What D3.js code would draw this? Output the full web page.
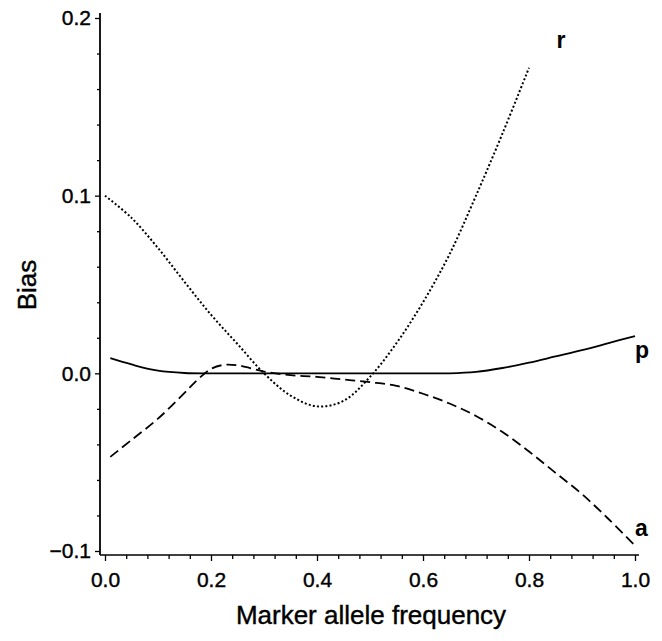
<!DOCTYPE html>
<html>
<head>
<meta charset="utf-8">
<script src="https://cdn.jsdelivr.net/npm/d3@7"></script>
<style>
  body { margin: 0; background: #fff; }
  svg { display: block; font-family: "Liberation Sans", Arial, Helvetica, sans-serif; }
</style>
</head>
<body>
<script>
// values
const rX = [0.0, 0.05, 0.10, 0.15, 0.20, 0.25, 0.30, 0.35, 0.40, 0.45, 0.50, 0.55, 0.60, 0.65, 0.70, 0.75, 0.80]
const rY = [0.100, 0.0875, 0.0705, 0.0515, 0.033, 0.0165, 0.000, -0.0125, -0.0186, -0.0155, -0.002, 0.017, 0.040, 0.067, 0.100, 0.135, 0.172]

const pX = [0.01, 0.05, 0.10, 0.15, 0.20, 0.30, 0.40, 0.50, 0.60, 0.65, 0.70, 0.75, 0.80, 0.85, 0.90, 0.95, 1.0]
const pY = [0.0085, 0.005, 0.0015, 0.0002, 0.0, 0.0, 0.0, 0.0, 0.0, 0.0, 0.0008, 0.003, 0.006, 0.0095, 0.013, 0.017, 0.021]

const aX = [0.01, 0.05, 0.10, 0.15, 0.175, 0.20, 0.225, 0.25, 0.30, 0.35, 0.40, 0.45, 0.50, 0.55, 0.60, 0.65, 0.70, 0.75, 0.80, 0.85, 0.90, 0.95, 1.0]
const aY = [-0.047, -0.0375, -0.0255, -0.011, -0.0035, 0.0025, 0.0048, 0.0045, 0.001, -0.001, -0.002, -0.0035, -0.005, -0.007, -0.0115, -0.017, -0.024, -0.033, -0.044, -0.056, -0.068, -0.082, -0.097]

const xTicks = [0, 0.2, 0.4, 0.6, 0.8, 1.0]
const yTicks = [-0.1, 0, 0.1, 0.2]

const width = 662, height = 641

let svg = d3.select("body").append("svg")
  .attr("width", width)
  .attr("height", height)

let x = d3.scaleLinear().domain([0, 1]).range([105, 635])
let y = d3.scaleLinear().domain([-0.1, 0.2]).range([551, 18])

const axisX = 100, axisY = 555

// axis lines (they sit a bit outside the data range, like the original)
svg.append("line")
  .attr("x1", axisX).attr("x2", axisX)
  .attr("y1", 13).attr("y2", axisY)
  .attr("stroke", "#000").attr("stroke-width", 1.8)
svg.append("line")
  .attr("x1", axisX).attr("x2", 639)
  .attr("y1", axisY).attr("y2", axisY)
  .attr("stroke", "#000").attr("stroke-width", 1.6)

// minor ticks
let xMinor = d3.range(0, 1.0001, 0.04).filter(v => !xTicks.some(t => Math.abs(t - v) < 1e-6))
let yMinor = d3.range(-0.1, 0.2001, 0.02).filter(v => !yTicks.some(t => Math.abs(t - v) < 1e-6))

let gx = svg.append("g").attr("transform", "translate(0," + axisY + ")")
gx.call(d3.axisBottom(x).tickValues(xMinor).tickSize(4).tickFormat(""))
gx.select(".domain").remove()
let gx2 = svg.append("g").attr("transform", "translate(0," + axisY + ")")
gx2.call(d3.axisBottom(x).tickValues(xTicks).tickSize(6).tickPadding(11).tickFormat(d3.format(".1f")))
gx2.select(".domain").remove()

let gy = svg.append("g").attr("transform", "translate(" + axisX + ",0)")
gy.call(d3.axisLeft(y).tickValues(yMinor).tickSize(3).tickFormat(""))
gy.select(".domain").remove()
let gy2 = svg.append("g").attr("transform", "translate(" + axisX + ",0)")
gy2.call(d3.axisLeft(y).tickValues(yTicks).tickSize(5).tickPadding(4).tickFormat(d3.format(".1f")))
gy2.select(".domain").remove()

svg.selectAll(".tick line").attr("stroke", "#000").attr("stroke-width", 1.3)
svg.selectAll(".tick text")
  .attr("fill", "#000")
  .attr("stroke", "#000").attr("stroke-width", 0.4)
  .style("font-size", "21px")
  .style("font-family", "'Liberation Sans', Arial, sans-serif")

// axis titles
svg.append("text")
  .attr("x", 371).attr("y", 624)
  .attr("text-anchor", "middle")
  .attr("stroke", "#000").attr("stroke-width", 0.4)
  .style("font-size", "26px")
  .text("Marker allele frequency")

svg.append("text")
  .attr("transform", "translate(36,285) rotate(-90)")
  .attr("text-anchor", "middle")
  .attr("stroke", "#000").attr("stroke-width", 0.4)
  .style("font-size", "26px")
  .text("Bias")

// curves
let line = d3.line()
  .x(d => x(d[0]))
  .y(d => y(d[1]))
  .curve(d3.curveCatmullRom.alpha(0.5))

const rData = rX.map((d, i) => [d, rY[i]])
const pData = pX.map((d, i) => [d, pY[i]])
const aData = aX.map((d, i) => [d, aY[i]])

svg.append("path").datum(pData)
  .attr("d", line)
  .attr("fill", "none").attr("stroke", "#000").attr("stroke-width", 1.8)

svg.append("path").datum(aData)
  .attr("d", line)
  .attr("fill", "none").attr("stroke", "#000").attr("stroke-width", 1.8)
  .attr("stroke-dasharray", "10,5")

svg.append("path").datum(rData)
  .attr("d", line)
  .attr("fill", "none").attr("stroke", "#000").attr("stroke-width", 2)
  .attr("stroke-dasharray", "2,2.2")

// curve labels
const labels = [
  {t: "r", x: 0.852, y: 0.183},
  {t: "p", x: 1.0, y: 0.0085},
  {t: "a", x: 1.0, y: -0.0915}
]
svg.selectAll(".lab").data(labels).enter()
  .append("text")
  .attr("class", "lab")
  .attr("x", d => x(d.x))
  .attr("y", d => y(d.y))
  .style("font-size", "23px")
  .style("font-weight", "bold")
  .text(d => d.t)
</script>
</body>
</html>
